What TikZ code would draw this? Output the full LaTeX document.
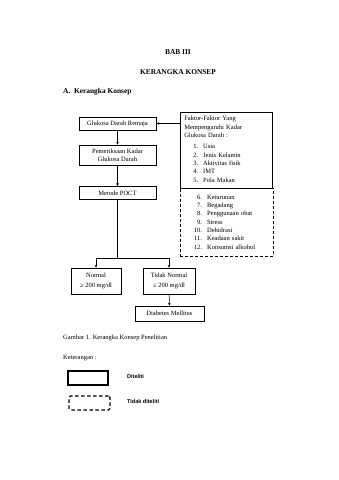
\documentclass[tikz,border=0pt]{standalone}
\usepackage{fontspec}
\setmainfont{Liberation Serif}
\newfontfamily\legfont{Liberation Sans}
\usetikzlibrary{arrows.meta, positioning}

\begin{document}
\begin{tikzpicture}[
        x=1pt, y=-1pt,
        txt/.style={font=\fontsize{6.5}{8.3}\selectfont, inner sep=0pt},
        head/.style={font=\fontsize{7.4}{8}\selectfont\bfseries, inner sep=0pt},
        box/.style={rectangle, draw, line width=0.5pt, align=center, minimum width=77, minimum height=13, inner sep=2pt, font=\fontsize{6.5}{8.3}\selectfont},
        list/.style={rectangle, draw, line width=0.6pt, anchor=north west, text width=84, align=left, inner sep=4pt, font=\fontsize{6.5}{8.3}\selectfont},
        arrow/.style={-{Stealth[length=3pt, width=2.6pt]}, line width=0.5pt}
    ]
        \useasboundingbox (0,0) rectangle (339,480);

        \node[head] (bab) at (178,52) {BAB III};
        \node[head] (judul) at (178,72) {KERANGKA KONSEP};
        \node[head, anchor=west] (sub) at (63,92) {A.\ \ Kerangka Konsep};

        \node[box] (glukosa) at (117.5,123.5) {Glukosa Darah Remaja};
        \node[box, minimum height=20] (periksa) at (117.5,155) {Pemeriksaan Kadar\\Glukosa Darah};
        \node[box] (metode) at (117.5,193) {Metode POCT};
        \node[list, minimum width=92, minimum height=76] (faktor) at (180,112) {Faktor-Faktor Yang\\Mempengaruhi Kadar\\Glukosa Darah :\\[4.5pt]
            \begin{tabular}{@{\hspace{9pt}}r@{\hspace{5pt}}l@{}}
                1. & Usia\\ 2. & Jenis Kelamin\\ 3. & Aktivitas fisik\\ 4. & IMT\\ 5. & Pola Makan
            \end{tabular}};
        \node[list, dashed, line width=0.9pt, dash pattern=on 3pt off 2pt, minimum width=93, minimum height=68] (lain) at (180,188) {
            \begin{tabular}{@{\hspace{9pt}}r@{\hspace{5pt}}l@{}}
                6. & Keturunan\\ 7. & Begadang\\ 8. & Penggunaan obat\\ 9. & Stress\\ 10. & Dehidrasi\\ 11. & Keadaan sakit\\ 12. & Konsumsi alkohol
            \end{tabular}};
        \node[box, minimum width=50, minimum height=26] (normal) at (96,281) {Normal\\[2pt]≥ 200 mg/dl};
        \node[box, minimum width=52, minimum height=26] (tidak) at (169,281) {Tidak Normal\\[2pt]≤ 200 mg/dl};
        \node[box, minimum width=69, minimum height=15] (dm) at (169.5,313.5) {Diabetes Mellitus};
        \coordinate (cabang) at (117.5,258);

        \draw[arrow] (faktor.west |- glukosa.east) -- (glukosa.east);
        \draw[arrow] (glukosa) -- (periksa);
        \draw[arrow] (periksa) -- (metode);
        \draw (metode) -- (cabang);
        \draw[arrow] (cabang) -| (normal);
        \draw[arrow] (cabang) -| (tidak);
        \draw[arrow] (tidak) -- (dm);

        % keterangan
        \node[txt, anchor=west] (gambar) at (63,338) {Gambar 1. Kerangka Konsep Penelitian};
        \node[txt, anchor=west] (ket) at (63,358) {Keterangan :};
        \node[rectangle, draw, line width=1.1pt, minimum width=40, minimum height=14] (legditeliti) at (88,378) {};
        \node[rectangle, draw, line width=1.1pt, dash pattern=on 3.5pt off 2.5pt, rounded corners=1.5pt, minimum width=41, minimum height=14] (legtidak) at (89.5,403) {};
        \node[inner sep=0pt, anchor=west, font=\legfont\fontsize{5.5}{7}\selectfont\bfseries] (diteliti) at (127,377) {Diteliti};
        \node[inner sep=0pt, anchor=west, font=\legfont\fontsize{5.5}{7}\selectfont\bfseries] (tdkditeliti) at (127,402) {Tidak diteliti};
    \end{tikzpicture}
\end{document}
